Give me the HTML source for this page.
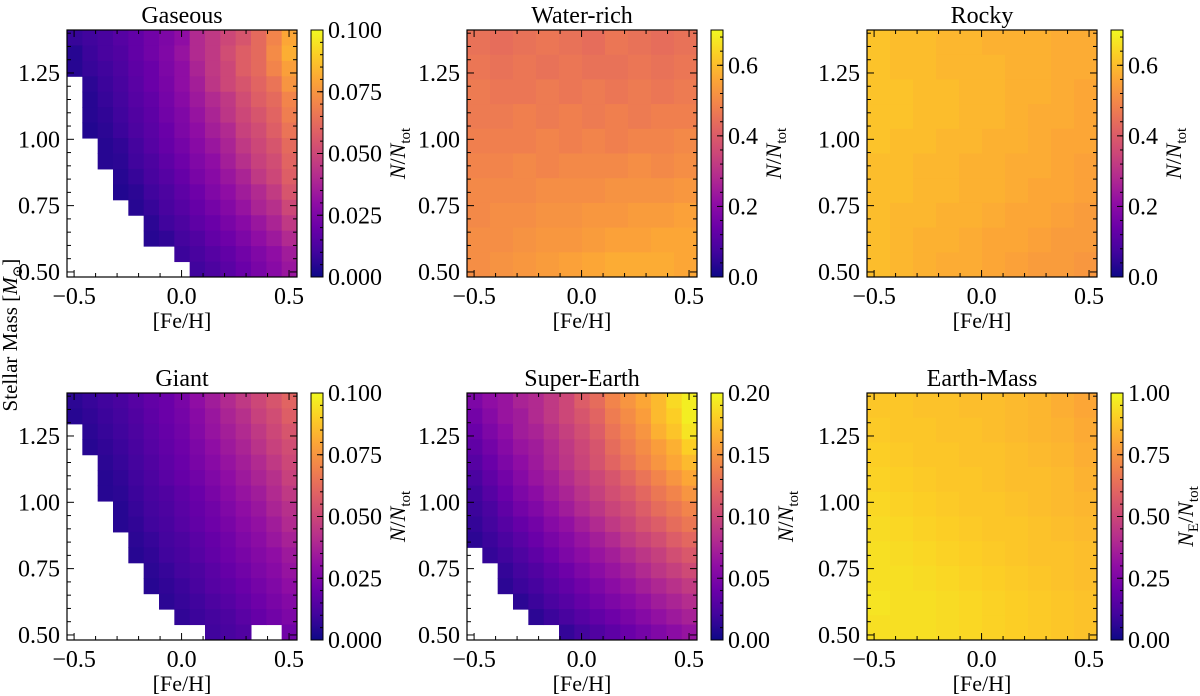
<!DOCTYPE html>
<html><head><meta charset="utf-8"><style>
html,body{margin:0;padding:0;background:#fff;}
svg{display:block;}
svg text{font-family:"Liberation Serif","Times New Roman",Times,"DejaVu Serif",serif;}
</style></head><body>
<svg id="fig" width="1200" height="696" viewBox="0 0 1200 696" xmlns="http://www.w3.org/2000/svg"></svg>
<script>
const N = null;
const panelTitles = ["Gaseous","Water-rich","Rocky","Giant","Super-Earth","Earth-Mass"];
const panelMax = [0.1,0.7,0.7,0.1,0.2,1.0];
const cbarTicks = [[0,0.025,0.05,0.075,0.1],[0,0.2,0.4,0.6],[0,0.2,0.4,0.6],[0,0.025,0.05,0.075,0.1],[0,0.05,0.1,0.15,0.2],[0,0.25,0.5,0.75,1.0]];
const cbarTickLabels = [["0.000","0.025","0.050","0.075","0.100"],["0.0","0.2","0.4","0.6"],["0.0","0.2","0.4","0.6"],["0.000","0.025","0.050","0.075","0.100"],["0.00","0.05","0.10","0.15","0.20"],["0.00","0.25","0.50","0.75","1.00"]];
const xTicks = [-0.5,0.0,0.5];
const xTickLabels = ["\u22120.5","0.0","0.5"];
const yTicks = [0.5,0.75,1.0,1.25];
const yTickLabels = ["0.50","0.75","1.00","1.25"];
const valueScale = [0.001,0.01,0.01,0.001,0.001,0.01];
const gaseousValues = [
[8,10,12,15,18,22,25,30,40,45,50,55,62,70,80],
[5,9,12,14,18,22,26,32,40,45,52,58,62,72,82],
[5,8,10,13,17,20,25,30,38,45,50,58,62,70,78],
[N,6,9,12,16,20,24,30,36,44,50,55,60,65,75],
[N,5,8,11,15,18,23,28,34,40,45,52,58,62,70],
[N,5,7,10,14,17,22,26,32,38,44,50,55,60,68],
[N,4,6,9,13,16,20,25,30,36,40,48,52,58,65],
[N,N,5,7,11,15,19,23,28,33,38,45,50,55,62],
[N,N,5,6,10,13,17,21,26,30,36,42,48,52,60],
[N,N,N,5,8,12,15,19,24,28,33,38,45,50,58],
[N,N,N,4,6,10,13,17,21,26,30,35,40,46,55],
[N,N,N,N,5,8,12,15,19,23,27,32,38,42,50],
[N,N,N,N,N,6,10,13,17,20,24,28,33,38,45],
[N,N,N,N,N,5,7,11,14,18,21,25,30,34,40],
[N,N,N,N,N,N,N,9,12,15,18,22,26,30,35],
[N,N,N,N,N,N,N,N,10,13,16,20,24,28,33]];
const waterValues = [
[45,44,45,46,45,44,46,45,44,45],
[46,45,46,45,46,45,45,46,45,46],
[47,46,46,47,46,47,46,47,46,47],
[47,47,48,47,48,47,48,47,48,48],
[48,48,48,49,48,49,48,49,49,50],
[49,49,50,49,50,50,50,51,50,51],
[50,50,50,51,51,51,52,52,52,53],
[50,51,51,52,52,53,53,54,54,55],
[51,51,52,53,53,54,55,55,56,56],
[51,52,53,54,55,56,57,57,57,56]];
const rockyValues = [
[61,60,60,59,59,58,58,58,57,57],
[61,60,60,59,59,59,58,58,57,57],
[61,61,60,60,59,59,58,58,57,56],
[61,61,60,60,59,59,58,57,57,56],
[61,60,60,59,59,58,58,57,56,56],
[60,60,59,59,58,58,57,57,56,55],
[60,60,59,59,58,58,57,56,56,55],
[60,59,59,58,58,57,56,56,55,54],
[60,59,58,58,57,56,56,55,54,54],
[60,59,58,57,57,56,55,54,54,53]];
const giantValues = [
[6,8,10,12,15,18,20,24,30,35,40,45,50,55,60],
[5,7,9,11,14,17,20,23,28,33,38,42,48,52,58],
[N,6,8,10,13,16,19,22,27,32,36,40,45,50,55],
[N,5,7,9,12,15,18,21,25,30,34,38,43,48,52],
[N,N,6,8,11,14,17,20,24,28,32,36,40,45,50],
[N,N,5,7,10,13,16,19,22,26,30,34,38,42,48],
[N,N,5,6,9,12,14,17,20,24,28,32,35,40,45],
[N,N,N,5,8,11,13,16,19,22,26,30,33,38,42],
[N,N,N,5,7,10,12,15,18,21,24,28,31,35,40],
[N,N,N,N,6,8,11,13,16,19,22,26,29,33,37],
[N,N,N,N,5,7,10,12,15,18,21,24,27,30,34],
[N,N,N,N,N,6,8,11,13,16,19,22,25,28,32],
[N,N,N,N,N,5,7,9,12,15,17,20,23,26,30],
[N,N,N,N,N,N,6,8,10,13,15,18,21,24,27],
[N,N,N,N,N,N,N,7,9,11,13,16,19,22,25],
[N,N,N,N,N,N,N,N,N,10,12,14,N,N,22]];
const superEarthValues = [
[50,60,65,75,80,90,100,115,125,140,150,160,170,185,195],
[45,55,65,70,80,90,100,110,120,135,145,155,170,180,195],
[40,50,60,70,75,85,95,105,115,130,140,150,165,175,190],
[35,45,55,65,70,80,90,100,110,125,135,145,155,165,180],
[30,40,50,60,68,78,88,98,108,120,130,140,150,160,170],
[25,35,45,55,65,72,82,92,100,110,120,130,140,150,160],
[20,30,40,50,58,68,76,86,95,105,112,122,132,140,150],
[18,25,35,45,52,62,70,80,88,98,105,115,125,132,140],
[15,22,30,38,45,55,62,72,80,90,98,108,115,125,132],
[12,18,25,32,40,48,55,64,72,80,90,98,105,115,122],
[N,15,20,27,34,42,50,58,65,72,80,88,95,105,112],
[N,N,15,22,28,35,42,50,58,65,72,80,88,95,102],
[N,N,12,18,23,30,36,43,50,58,64,72,78,85,92],
[N,N,N,12,18,25,30,37,44,50,56,63,70,76,82],
[N,N,N,N,12,18,24,30,36,42,48,55,62,68,74],
[N,N,N,N,N,N,15,22,28,34,40,46,52,58,64]];
const earthMassValues = [
[88,88,87,87,86,86,85,84,82,80],
[89,88,88,87,87,86,85,84,83,81],
[90,89,88,88,87,87,86,85,84,82],
[91,90,89,88,88,87,86,86,85,83],
[92,91,90,89,88,88,87,86,85,84],
[93,92,91,90,89,88,88,87,86,85],
[94,93,92,91,90,89,88,87,87,86],
[94,94,93,92,91,90,89,88,87,86],
[95,94,94,93,92,91,90,89,88,87],
[94,94,94,93,92,91,90,89,88,87]];
const panelValues = [gaseousValues,waterValues,rockyValues,giantValues,superEarthValues,earthMassValues];

const plasma = ["#0d0887","#41049d","#6a00a8","#8f0da4","#b12a90","#cc4778","#e16462","#f2844b","#fca636","#fcce25","#f0f921"];
function hex(c){return [parseInt(c.substr(1,2),16),parseInt(c.substr(3,2),16),parseInt(c.substr(5,2),16)];}
function cmap(t){t=Math.max(0,Math.min(1,t));const f=t*10,i=Math.min(9,Math.floor(f)),r=f-i;const a=hex(plasma[i]),b=hex(plasma[i+1]);
 return "rgb("+a.map((v,k)=>Math.round(v+(b[k]-v)*r)).join(",")+")";}

const svg=document.getElementById('fig');
const NS="http://www.w3.org/2000/svg";
function mk(tag,attrs,parent){const e=document.createElementNS(NS,tag);for(const k in attrs)e.setAttribute(k,attrs[k]);(parent||svg).appendChild(e);return e;}
const XMIN=-0.533,XMAX=0.537,YMIN=0.481,YMAX=1.412;
const colX=[67,467,867],rowY=[30,393];const AW=230,AH=247;

for(let p=0;p<6;p++){
 const c=p%3,r=Math.floor(p/3);const L=colX[c],T=rowY[r];
 const g=mk('g',{});
 
 
 const sx=v=>L+(v-XMIN)/(XMAX-XMIN)*AW, sy=v=>T+(YMAX-v)/(YMAX-YMIN)*AH;
 const vals=panelValues[p],nr=vals.length,nc=vals[0].length;
 const cells=mk('g',{},g);
 
 
 for(let i=0;i<nr;i++)for(let j=0;j<nc;j++){const v=vals[i][j];if(v===null)continue;
  const x0=XMIN+(XMAX-XMIN)*j/nc,x1=XMIN+(XMAX-XMIN)*(j+1)/nc,y0=YMAX-(YMAX-YMIN)*i/nr,y1=YMAX-(YMAX-YMIN)*(i+1)/nr;
  const rc=mk('rect',{x:sx(x0),y:sy(y0),width:sx(x1)-sx(x0)+0.5,height:sy(y1)-sy(y0)+0.5,fill:cmap(v*valueScale[p]/panelMax[p])},cells);
  
  
 }
 const fr=mk('rect',{x:L,y:T,width:AW,height:AH,fill:'none',stroke:'#000','stroke-width':1.2},g);
 
 
 for(let v=-0.5;v<=0.51;v+=0.1){const X=sx(v);const major=xTicks.some(t=>Math.abs(t-v)<1e-6);const len=major?7:4;
  mk('line',{x1:X,x2:X,y1:T+AH,y2:T+AH-len,stroke:'#000'},g);mk('line',{x1:X,x2:X,y1:T,y2:T+len,stroke:'#000'},g);}
 for(let v=0.5;v<=1.41;v+=0.05){const Y=sy(v);const major=yTicks.some(t=>Math.abs(t-v)<1e-6);const len=major?7:4;
  mk('line',{x1:L,x2:L+len,y1:Y,y2:Y,stroke:'#000'},g);mk('line',{x1:L+AW,x2:L+AW-len,y1:Y,y2:Y,stroke:'#000'},g);}
 xTicks.forEach((t,k)=>{const tx=mk('text',{x:sx(t),y:T+AH+27,'font-size':24,'text-anchor':'middle'},g);tx.textContent=xTickLabels[k];
  });
 yTicks.forEach((t,k)=>{const tx=mk('text',{x:L-7,y:sy(t)+8,'font-size':24,'text-anchor':'end'},g);tx.textContent=yTickLabels[k];
  });
 const ti=mk('text',{x:L+AW/2,y:T-7,'font-size':24,'text-anchor':'middle'},g);ti.textContent=panelTitles[p];
 
 const xl=mk('text',{x:L+AW/2,y:T+AH+51,'font-size':22,'text-anchor':'middle'},g);xl.textContent='[Fe/H]';
 
 const CL=L+244,CW=12;
 const gid='grad'+p;const defs=mk('defs',{},g);const lg=mk('linearGradient',{id:gid,x1:0,y1:1,x2:0,y2:0},defs);
 for(let k=0;k<=10;k++)mk('stop',{offset:k/10,'stop-color':plasma[k]},lg);
 const cb=mk('rect',{x:CL,y:T,width:CW,height:AH,fill:'url(#'+gid+')',stroke:'#000','stroke-width':1},g);
 
 const cy=v=>T+AH-v/panelMax[p]*AH;
 const ct=cbarTicks[p],step=(ct[1]-ct[0])/5;
 for(let v=0;v<=panelMax[p]+1e-9;v+=step){const Y=cy(v);mk('line',{x1:CL+CW,x2:CL+CW-3,y1:Y,y2:Y,stroke:'#000'},g);}
 ct.forEach((t,k)=>{const Y=cy(t);mk('line',{x1:CL+CW,x2:CL+CW-6,y1:Y,y2:Y,stroke:'#000'},g);
  const tx=mk('text',{x:CL+CW+5,y:Y+8,'font-size':24},g);tx.textContent=cbarTickLabels[p][k];
  });
 const lab=cbarTickLabels[p][0];const labW=(lab.length-1)*12+6;
 const lx=CL+CW+5+labW+23,ly=T+AH/2;
 const cl=mk('text',{x:lx,y:ly,'font-size':22,'text-anchor':'middle',transform:'rotate(-90 '+lx+' '+ly+')'},g);
 cl.innerHTML= p===5 ? '<tspan font-style="italic">N</tspan><tspan font-size="15" dy="5">E</tspan><tspan dy="-5">/</tspan><tspan font-style="italic">N</tspan><tspan font-size="15" dy="5">tot</tspan>'
  : '<tspan font-style="italic">N</tspan>/<tspan font-style="italic">N</tspan><tspan font-size="15" dy="5">tot</tspan>';
 
}
const yl=mk('text',{x:17,y:335,'font-size':21,'text-anchor':'middle',transform:'rotate(-90 17 335)'});
yl.innerHTML='Stellar Mass [<tspan font-style="italic">M</tspan><tspan font-size="14" dy="5">\u2299</tspan><tspan dy="-5">]</tspan>';


</script>
</body></html>
